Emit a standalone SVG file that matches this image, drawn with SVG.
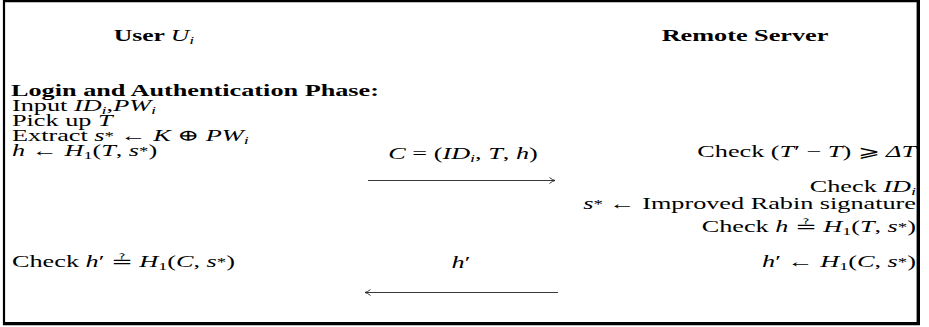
<svg xmlns="http://www.w3.org/2000/svg" width="929" height="327" viewBox="0 0 929 327">
<style>
text{font-family:"Liberation Serif","DejaVu Serif",serif;font-size:16px;fill:#000}
.b{font-weight:bold}
.i{font-style:italic}
.s{font-size:11px}
.sup{font-size:11.5px}
.frame{fill:none;stroke:#000}
.arr{fill:none;stroke:#222;stroke-width:0.9}
</style>
<rect width="929" height="327" fill="#fff"/>
<g id="frame">
<path class="frame" stroke-width="2.2" d="M4,0V325 M3,1.1H918"/>
<path class="frame" stroke-width="3.4" d="M918.3,0V325.2 M3,323.6H920"/>
</g>
<g id="user">
<text transform="translate(154,41) scale(1.6,1)" text-anchor="middle"><tspan class="b">User </tspan><tspan class="i">U</tspan><tspan class="i s" dy="3">i</tspan></text>
<text class="b" transform="translate(11,96) scale(1.64,1)">Login and Authentication Phase:</text>
<text transform="translate(12,111) scale(1.64,1)">Input <tspan class="i">ID</tspan><tspan class="i s" dy="3">i</tspan><tspan dy="-3">,</tspan><tspan class="i">PW</tspan><tspan class="i s" dy="3">i</tspan></text>
<text transform="translate(12,126) scale(1.64,1)">Pick up <tspan class="i">T</tspan></text>
<text transform="translate(12,141) scale(1.64,1)">Extract <tspan class="i">s</tspan><tspan class="sup" dy="-1">*</tspan><tspan dy="1"> ← </tspan><tspan class="i">K</tspan> ⊕ <tspan class="i">PW</tspan><tspan class="i s" dy="3">i</tspan></text>
<text transform="translate(12,156) scale(1.64,1)"><tspan class="i">h</tspan> ← <tspan class="i">H</tspan><tspan class="s" dy="3">1</tspan><tspan dy="-3">(</tspan><tspan class="i">T</tspan>, <tspan class="i">s</tspan><tspan class="sup" dy="-1">*</tspan><tspan dy="1">)</tspan></text>
<text transform="translate(12,267) scale(1.64,1)">Check <tspan class="i">h</tspan>′ ≟ <tspan class="i">H</tspan><tspan class="s" dy="3">1</tspan><tspan dy="-3">(</tspan><tspan class="i">C</tspan>, <tspan class="i">s</tspan><tspan class="sup" dy="-1">*</tspan><tspan dy="1">)</tspan></text>
</g>
<g id="server">
<text class="b" transform="translate(745,41) scale(1.64,1)" text-anchor="middle">Remote Server</text>
<text transform="translate(916,157) scale(1.64,1)" text-anchor="end">Check (<tspan class="i">T</tspan>′ − <tspan class="i">T</tspan>) ⩾ <tspan class="i">ΔT</tspan></text>
<text transform="translate(916,192) scale(1.64,1)" text-anchor="end">Check <tspan class="i">ID</tspan><tspan class="i s" dy="3">i</tspan></text>
<text transform="translate(916,208.5) scale(1.64,1)" text-anchor="end"><tspan class="i">s</tspan><tspan class="sup" dy="-1">*</tspan><tspan dy="1"> ← Improved Rabin signature</tspan></text>
<text transform="translate(916,232) scale(1.64,1)" text-anchor="end">Check <tspan class="i">h</tspan> ≟ <tspan class="i">H</tspan><tspan class="s" dy="3">1</tspan><tspan dy="-3">(</tspan><tspan class="i">T</tspan>, <tspan class="i">s</tspan><tspan class="sup" dy="-1">*</tspan><tspan dy="1">)</tspan></text>
<text transform="translate(916,267) scale(1.64,1)" text-anchor="end"><tspan class="i">h</tspan>′ ← <tspan class="i">H</tspan><tspan class="s" dy="3">1</tspan><tspan dy="-3">(</tspan><tspan class="i">C</tspan>, <tspan class="i">s</tspan><tspan class="sup" dy="-1">*</tspan><tspan dy="1">)</tspan></text>
</g>
<g id="connectors">
<path class="arr" d="M368,180.5H555 M549.5,177.5Q552.5,180 555,180.5Q552.5,181 549.5,183.5"/>
<path class="arr" d="M365,292.5H558 M370.5,289.5Q367.5,292 365,292.5Q367.5,293 370.5,295.5"/>
<text transform="translate(463,159) scale(1.64,1)" text-anchor="middle"><tspan class="i">C</tspan> = (<tspan class="i">ID</tspan><tspan class="i s" dy="3">i</tspan><tspan dy="-3">, </tspan><tspan class="i">T</tspan>, <tspan class="i">h</tspan>)</text>
<text transform="translate(461,268) scale(1.64,1)" text-anchor="middle"><tspan class="i">h</tspan>′</text>
</g>
</svg>
